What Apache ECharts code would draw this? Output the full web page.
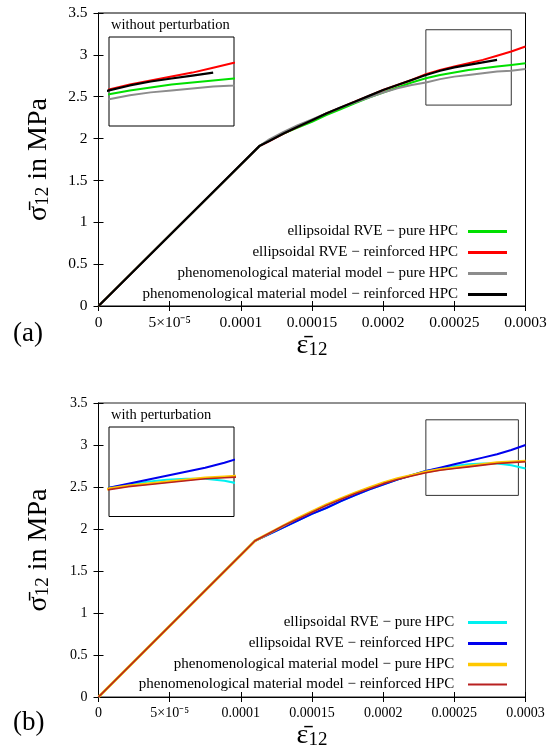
<!DOCTYPE html>
<html><head><meta charset="utf-8">
<script src="https://cdn.jsdelivr.net/npm/echarts@6/dist/echarts.min.js"></script>
<style>html,body{margin:0;padding:0;background:#fff}#c{width:559px;height:752px}</style>
</head><body><div id="c"></div><script>
// ---------- data (a): without perturbation ----------
const strainA = [0, 0.000113, 0.00012, 0.00013, 0.00014, 0.00015, 0.00016, 0.00017, 0.00018, 0.00019, 0.0002, 0.00021, 0.00022, 0.00023, 0.00024, 0.00025, 0.00026, 0.00027, 0.00028, 0.00029, 0.0003];
const aRvePure       = [0, 1.91, 1.98, 2.06, 2.13, 2.20, 2.28, 2.35, 2.42, 2.49, 2.55, 2.61, 2.67, 2.72, 2.76, 2.79, 2.82, 2.84, 2.86, 2.88, 2.90];
const aRveReinforced = [0, 1.91, 1.97, 2.06, 2.14, 2.22, 2.30, 2.37, 2.44, 2.51, 2.58, 2.64, 2.70, 2.77, 2.82, 2.86, 2.90, 2.94, 2.99, 3.04, 3.10];
const aPhenoPure     = [0, 1.91, 1.99, 2.08, 2.16, 2.23, 2.30, 2.37, 2.43, 2.49, 2.55, 2.60, 2.64, 2.67, 2.71, 2.74, 2.76, 2.78, 2.80, 2.81, 2.83];
const aPhenoReinf    = [0, 1.91, 1.97, 2.06, 2.14, 2.22, 2.30, 2.37, 2.44, 2.51, 2.58, 2.64, 2.70, 2.76, 2.81, 2.85, 2.88, 2.91, 2.94];
// ---------- data (b): with perturbation ----------
const strainB = [0, 0.00011, 0.00012, 0.00013, 0.00014, 0.00015, 0.00016, 0.00017, 0.00018, 0.00019, 0.0002, 0.00021, 0.00022, 0.00023, 0.00024, 0.00025, 0.00026, 0.00027, 0.00028, 0.00029, 0.0003];
const bRvePure       = [0, 1.86, 1.94, 2.02, 2.10, 2.18, 2.25, 2.33, 2.40, 2.47, 2.53, 2.59, 2.64, 2.69, 2.72, 2.75, 2.77, 2.78, 2.78, 2.76, 2.72];
const bRveReinforced = [0, 1.86, 1.94, 2.02, 2.10, 2.18, 2.25, 2.33, 2.40, 2.47, 2.53, 2.59, 2.64, 2.69, 2.73, 2.77, 2.81, 2.85, 2.89, 2.94, 3.00];
const bPhenoPure     = [0, 1.86, 1.95, 2.04, 2.13, 2.21, 2.29, 2.36, 2.43, 2.49, 2.55, 2.60, 2.64, 2.68, 2.71, 2.73, 2.75, 2.77, 2.79, 2.80, 2.81];
const bPhenoReinf    = [0, 1.86, 1.95, 2.04, 2.12, 2.20, 2.28, 2.35, 2.42, 2.48, 2.54, 2.59, 2.63, 2.67, 2.70, 2.72, 2.74, 2.76, 2.78, 2.79, 2.80];
// ---------- names / ticks / zoom windows ----------
const namesA = ['ellipsoidal RVE \u2212 pure HPC', 'ellipsoidal RVE \u2212 reinforced HPC', 'phenomenological material model \u2212 pure HPC', 'phenomenological material model \u2212 reinforced HPC'];
const namesB = namesA.map(n => n + ' ');
const xTicks = [0, 0.0003, 0.00005];   // min, max, step
const yTicks = [0, 3.5, 0.5];
const zoomXA = [0.00023, 0.00029];
const zoomXB = [0.00023, 0.000295];
const zoomY = [2.4, 3.3];

const colorsA = ['#00e000', '#ff0000', '#8c8c8c', '#000000'];
const colorsB = ['#00f0f0', '#0000ee', '#ffc800', '#b82020'];
const widthsA = [2, 2, 2, 2.2];
const widthsB = [2, 2, 2.6, 1.6];
const legendThickA = [3, 3, 3, 3];
const legendThickB = [3, 3, 3.5, 2];

const FONT = 'Liberation Serif';
const pairs = (xs, ys) => ys.map((y, i) => [xs[i], y]);
const seriesA = [aRvePure, aRveReinforced, aPhenoPure, aPhenoReinf];
const seriesB = [bRvePure, bRveReinforced, bPhenoPure, bPhenoReinf];

function fmtX(v) {
  if (Math.abs(v - 0.00005) < 1e-10) return '5\u00d710\u207b\u2075';
  return String(Number(v.toPrecision(6)));
}
const nameRich = {
  m: { fontFamily: FONT, fontSize: 28, color: '#000' },
  s: { fontFamily: FONT, fontSize: 19, lineHeight: 10, verticalAlign: 'bottom', color: '#000' }
};
function mainAxes(gi, fs) {
  const common = { type: 'value', gridIndex: gi,
    axisLine: { show: true, lineStyle: { color: '#000', width: 1 } },
    axisTick: { show: true, inside: true, length: 5, lineStyle: { color: '#000' } },
    splitLine: { show: false } };
  const x = Object.assign({}, common, { min: xTicks[0], max: xTicks[1], interval: xTicks[2], position: 'bottom',
    axisLabel: { margin: 9, fontFamily: FONT, fontSize: fs, color: '#000', formatter: fmtX },
    name: '{m|\u03b5\u0304}{s|12}', nameLocation: 'middle', nameGap: 25,
    nameTextStyle: { rich: nameRich } });
  const x2 = Object.assign({}, common, { min: xTicks[0], max: xTicks[1], interval: xTicks[2], position: 'top', axisLabel: { show: false } });
  const y = Object.assign({}, common, { min: yTicks[0], max: yTicks[1], interval: yTicks[2], position: 'left',
    axisLabel: { margin: 11, fontFamily: FONT, fontSize: fs, color: '#000' },
    name: '{m|\u03c3\u0304}{s|12}{m| in MPa}', nameLocation: 'middle', nameRotate: 90, nameGap: 46,
    nameTextStyle: { rich: nameRich } });
  const y2 = Object.assign({}, common, { min: yTicks[0], max: yTicks[1], interval: yTicks[2], position: 'right', axisLabel: { show: false } });
  return { x: [x, x2], y: [y, y2] };
}
function insetAxes(gi, zx) {
  const hid = { type: 'value', gridIndex: gi, axisLine: { show: false }, axisTick: { show: false }, axisLabel: { show: false }, splitLine: { show: false } };
  return { x: Object.assign({}, hid, { min: zx[0], max: zx[1] }), y: Object.assign({}, hid, { min: zoomY[0], max: zoomY[1] }) };
}
const mA = mainAxes(0, 15.5), mB = mainAxes(2, 14);
const iA = insetAxes(1, zoomXA), iB = insetAxes(3, zoomXB);
const xAxis = [mA.x[0], mA.x[1], iA.x, mB.x[0], mB.x[1], iB.x];
const yAxis = [mA.y[0], mA.y[1], iA.y, mB.y[0], mB.y[1], iB.y];

const series = [];
function addSet(names, colors, widths, data, xs, xi, yi, box) {
  data.forEach((arr, k) => {
    const s = { type: 'line', name: names[k], xAxisIndex: xi, yAxisIndex: yi, data: pairs(xs, arr),
      symbol: 'none', showSymbol: false, smooth: false, clip: true, z: 10 + k,
      lineStyle: { color: colors[k], width: widths[k] }, itemStyle: { color: colors[k] } };
    if (box && k === 0) {
      s.markArea = { silent: true, itemStyle: { color: 'rgba(0,0,0,0)', borderColor: '#333', borderWidth: 1 },
        data: [[{ coord: [box[0][0], box[1][1]] }, { coord: [box[0][1], box[1][0]] }]] };
    }
    series.push(s);
  });
}
addSet(namesA, colorsA, widthsA, seriesA, strainA, 0, 0, [zoomXA, zoomY]);
addSet(namesA, colorsA, widthsA, seriesA, strainA, 2, 2, null);
addSet(namesB, colorsB, widthsB, seriesB, strainB, 3, 3, [zoomXB, zoomY]);
addSet(namesB, colorsB, widthsB, seriesB, strainB, 5, 5, null);

const legend = [];
const rowsA = [224, 245, 266, 287], rowsB = [615, 636, 657, 677];
function addLegends(names, rows, thick) {
  names.forEach((n, k) => legend.push({ show: true, data: [n], right: 52, top: rows[k], align: 'right', orient: 'horizontal',
    itemWidth: 39, itemHeight: thick[k], padding: 0, selectedMode: false, icon: 'rect',
    textStyle: { fontFamily: FONT, fontSize: 15, color: '#000', padding: [0, 5, 0, 0] } }));
}
addLegends(namesA, rowsA, legendThickA);
addLegends(namesB, rowsB, legendThickB);

const option = {
  animation: false,
  backgroundColor: '#fff',
  grid: [
    { left: 98.5, top: 13, width: 427, height: 293, show: true, borderColor: '#000', borderWidth: 1, backgroundColor: 'transparent' },
    { left: 109, top: 37, width: 125, height: 89, show: true, borderColor: '#000', borderWidth: 1, backgroundColor: 'transparent' },
    { left: 98.5, top: 403, width: 427, height: 294, show: true, borderColor: '#222', borderWidth: 1, backgroundColor: 'transparent' },
    { left: 109, top: 427, width: 125, height: 89.5, show: true, borderColor: '#000', borderWidth: 1, backgroundColor: 'transparent' }
  ],
  xAxis, yAxis, series, legend,
  graphic: [
    { type: 'text', left: 13, top: 320, style: { text: '(a)', font: '27px "Liberation Serif"', fill: '#000' } },
    { type: 'text', left: 13, top: 709, style: { text: '(b)', font: '27px "Liberation Serif"', fill: '#000' } },
    { type: 'text', left: 111, top: 18, style: { text: 'without perturbation', font: '14.5px "Liberation Serif"', fill: '#000' } },
    { type: 'text', left: 111, top: 408, style: { text: 'with perturbation', font: '14.5px "Liberation Serif"', fill: '#000' } }
  ]
};
const chart = echarts.init(document.getElementById('c'), null, { renderer: 'canvas' });
chart.setOption(option);
</script></body></html>
